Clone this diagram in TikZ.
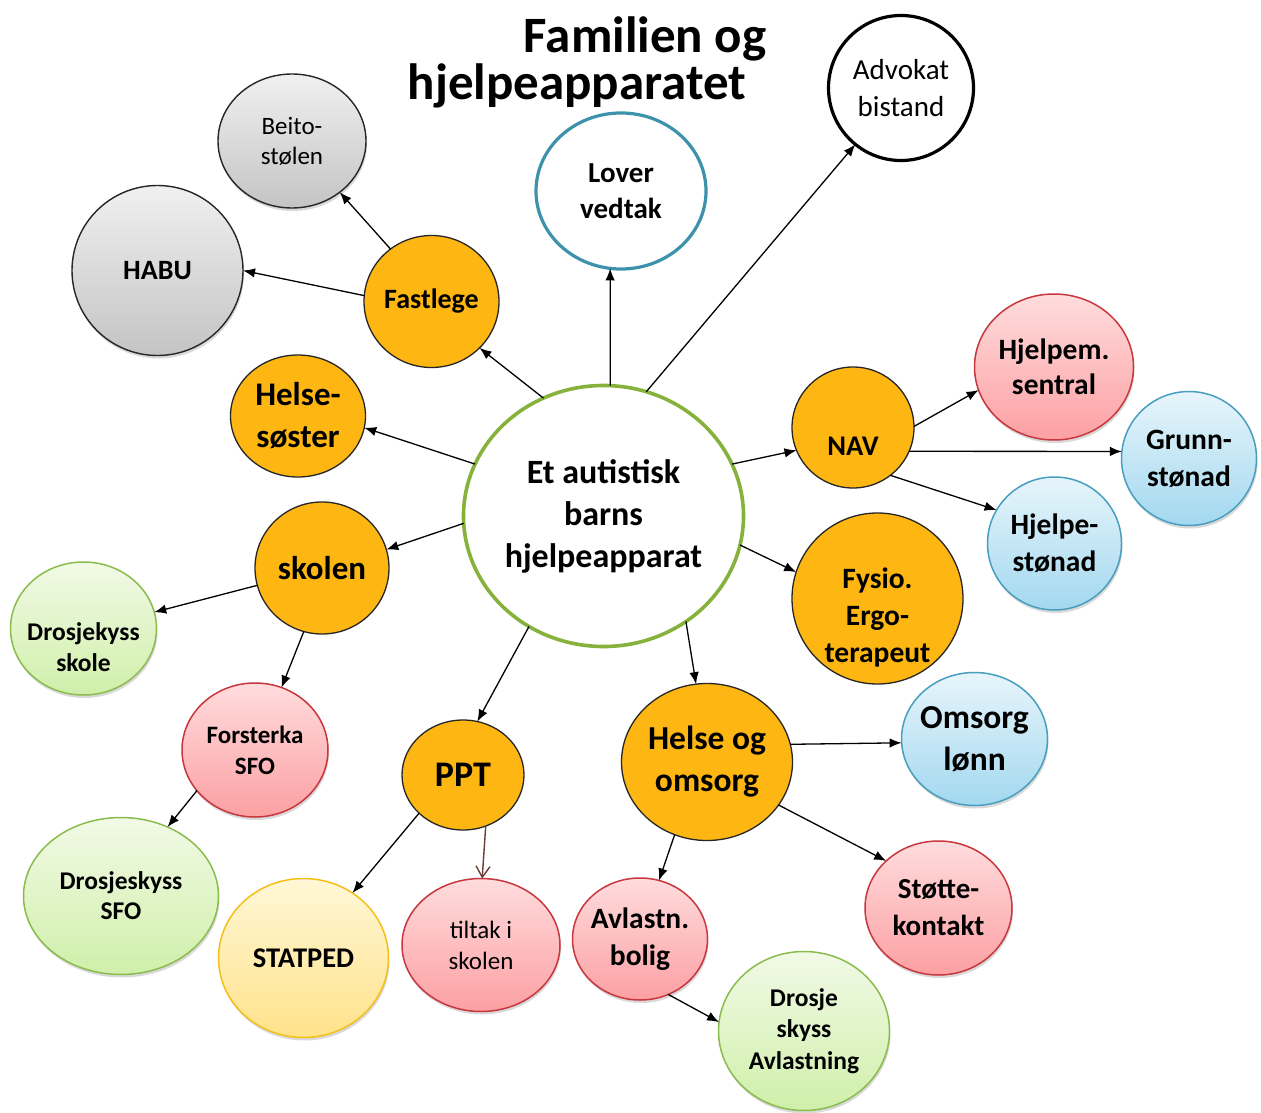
\documentclass[tikz,border=0pt]{standalone}
\usepackage{fontspec}
\setmainfont{Carlito}
\usetikzlibrary{shapes.geometric,arrows.meta,shadows}
\definecolor{orng}{RGB}{253,182,18}
\definecolor{grayT}{RGB}{240,240,240}
\definecolor{grayB}{RGB}{196,196,196}
\definecolor{redT}{RGB}{255,220,221}
\definecolor{redB}{RGB}{252,160,163}
\definecolor{redL}{RGB}{200,55,62}
\definecolor{bluT}{RGB}{231,245,251}
\definecolor{bluB}{RGB}{163,216,239}
\definecolor{bluL}{RGB}{72,158,190}
\definecolor{grnT}{RGB}{241,250,230}
\definecolor{grnB}{RGB}{208,239,170}
\definecolor{grnL}{RGB}{138,188,78}
\definecolor{yelT}{RGB}{255,247,214}
\definecolor{yelB}{RGB}{255,226,138}
\definecolor{yelL}{RGB}{246,190,24}
\definecolor{tealL}{RGB}{60,146,170}
\definecolor{ctrL}{RGB}{134,178,60}
\definecolor{brwn}{RGB}{105,62,52}
\newcommand{\fsz}[2]{\fontsize{#1}{#2}\selectfont}
\tikzset{
  bub/.style={ellipse, inner sep=0pt, outer sep=0pt},
  shad/.style={drop shadow={shadow xshift=1pt, shadow yshift=-3pt, opacity=0.15, fill=black}},
  orangebub/.style={bub, fill=orng, draw=black!85, line width=1.3pt},
  graybub/.style={bub, shad, top color=grayT, bottom color=grayB, draw=black!85, line width=1.4pt},
  redbub/.style={bub, shad, top color=redT, bottom color=redB, draw=redL, line width=1.5pt},
  bluebub/.style={bub, shad, top color=bluT, bottom color=bluB, draw=bluL, line width=1.5pt},
  greenbub/.style={bub, shad, top color=grnT, bottom color=grnB, draw=grnL, line width=1.5pt},
  yellowbub/.style={bub, shad, top color=yelT, bottom color=yelB, draw=yelL, line width=1.5pt},
  txt/.style={align=center, inner sep=0pt, text=black},
  conn/.style={-{Latex[length=12pt,width=9.5pt]}, line width=1.3pt, black},
  openconn/.style={-{Straight Barb[length=11pt,width=14pt]}, line width=1.4pt, brwn},
}
\begin{document}
\begin{tikzpicture}[x=1pt,y=-1pt]
\fill[white] (0,0) rectangle (1261,1113);
\useasboundingbox (0,0) rectangle (1261,1113);

% title
\node[txt, anchor=base, font=\fsz{51}{60}\bfseries] (title1) at (645,53) {Familien og};
\node[txt, anchor=base, font=\fsz{51}{60}\bfseries] (title2) at (577,100) {hjelpeapparatet};

% nodes
\node[graybub, minimum width=148pt, minimum height=134pt,
  label={[txt, font=\fsz{25}{30}]center:{Beito-\\stølen}}] (beito) at (292,141) {};
\node[graybub, minimum width=171pt, minimum height=170pt,
  label={[txt, font=\fsz{28}{34}\bfseries]center:HABU}] (habu) at (157.5,270.5) {};
\node[orangebub, minimum width=135pt, minimum height=132pt,
  label={[txt, font=\fsz{28}{34}\bfseries]center:Fastlege}] (fast) at (431.5,301.5) {};
\node[bub, fill=white, draw=tealL, line width=3.2pt, minimum width=170pt, minimum height=156pt,
  label={[txt, font=\fsz{29}{36}\bfseries]center:{Lover\\vedtak}}] (lover) at (621,191) {};
\node[bub, fill=white, draw=black, line width=3.2pt, minimum width=145pt, minimum height=145pt,
  label={[txt, font=\fsz{29}{37}]center:{Advokat\\bistand}}] (advokat) at (901,88) {};
\node[orangebub, minimum width=135pt, minimum height=122pt,
  label={[txt, font=\fsz{33}{42}\bfseries]center:{Helse-\\søster}}] (helses) at (298,416) {};
\node[bub, fill=white, draw=ctrL, line width=3.6pt, minimum width=280pt, minimum height=261pt,
  label={[txt, font=\fsz{34}{42}\bfseries]center:{Et autistisk\\barns\\hjelpeapparat}}] (center) at (603.5,516) {};
\node[orangebub, minimum width=122pt, minimum height=121pt,
  label={[txt, font=\fsz{28.5}{34}\bfseries, yshift=-19pt]center:NAV}] (nav) at (853,427.5) {};
\node[redbub, minimum width=159pt, minimum height=146pt,
  label={[txt, font=\fsz{29.5}{35}\bfseries]center:{Hjelpem.\\sentral}}] (hjelpem) at (1054,367) {};
\node[bluebub, minimum width=135pt, minimum height=134pt,
  label={[txt, font=\fsz{29.5}{37}\bfseries]center:{Grunn-\\stønad}}] (grunn) at (1189,458.5) {};
\node[bluebub, minimum width=134pt, minimum height=133pt,
  label={[txt, font=\fsz{29.5}{37}\bfseries]center:{Hjelpe-\\stønad}}] (hjelpest) at (1054.5,543.5) {};
\node[orangebub, minimum width=171pt, minimum height=171pt,
  label={[txt, font=\fsz{29.5}{37}\bfseries, yshift=-19pt]center:{Fysio.\\Ergo-\\terapeut}}] (fysio) at (877.5,598.5) {};
\node[orangebub, minimum width=134pt, minimum height=132pt,
  label={[txt, font=\fsz{33}{40}\bfseries]center:skolen}] (skolen) at (322,568) {};
\node[greenbub, minimum width=146pt, minimum height=133pt,
  label={[txt, font=\fsz{25.5}{31}\bfseries, yshift=-19pt]center:{Drosjekyss\\skole}}] (drskole) at (83.5,628.5) {};
\node[redbub, minimum width=146pt, minimum height=134pt,
  label={[txt, font=\fsz{25}{31}\bfseries]center:{Forsterka\\SFO}}] (forst) at (255,750) {};
\node[greenbub, minimum width=195pt, minimum height=157pt,
  label={[txt, font=\fsz{25.5}{30}\bfseries]center:{Drosjeskyss\\SFO}}] (drsfo) at (121,896) {};
\node[orangebub, minimum width=122pt, minimum height=110pt,
  label={[txt, font=\fsz{36}{42}\bfseries]center:PPT}] (ppt) at (463,775) {};
\node[yellowbub, minimum width=170pt, minimum height=159pt,
  label={[txt, font=\fsz{28.5}{34}\bfseries]center:STATPED}] (statped) at (303.5,958) {};
\node[redbub, minimum width=158pt, minimum height=133pt,
  label={[txt, font=\fsz{25}{31}]center:{tiltak i\\skolen}}] (tiltak) at (481,945) {};
\node[orangebub, minimum width=171pt, minimum height=157pt,
  label={[txt, font=\fsz{33.5}{42}\bfseries]center:{Helse og\\omsorg}}] (helseom) at (707,762) {};
\node[bluebub, minimum width=146pt, minimum height=133pt,
  label={[txt, font=\fsz{33.5}{42}\bfseries]center:{Omsorg\\lønn}}] (omsorg) at (974.5,739) {};
\node[redbub, minimum width=135pt, minimum height=122pt,
  label={[txt, font=\fsz{29.5}{37}\bfseries]center:{Avlastn.\\bolig}}] (avlastn) at (640,939) {};
\node[redbub, minimum width=147pt, minimum height=134pt,
  label={[txt, font=\fsz{29}{37}\bfseries]center:{Støtte-\\kontakt}}] (stotte) at (938.5,908) {};
\node[greenbub, minimum width=171pt, minimum height=159pt,
  label={[txt, font=\fsz{25.5}{31.5}\bfseries]center:{Drosje\\skyss\\Avlastning}}] (drosje) at (804,1031) {};

% connectors
\draw[conn] (center.117.6) -- (fast.-44.4);
\draw[conn] (center.87) -- (lover.-98.6);
\draw[conn] (center.71.4) -- (advokat.231.7);
\draw[conn] (center.158.6) -- (helses.-10.7);
\draw[conn] (center.22.8) -- (nav.202);
\draw[conn] (center.183.7) -- (skolen.16.4);
\draw[conn] (center.-12.8) -- (fysio.162);
\draw[conn] (center.236.2) -- (ppt.75.7);
\draw[conn] (center.-52.4) -- (helseom.98.7);
\draw[conn] (fast.128) -- (beito.-47.2);
\draw[conn] (fast.175) -- (habu.0.7);
\draw[conn] (nav.1) -- (hjelpem.197.8);
\draw[conn] (nav.-23.7) -- (grunn.174.5);
\draw[conn] (nav.-52) -- (hjelpest.150);
\draw[conn] (skolen.195) -- (drskole.13.7);
\draw[conn] (skolen.254.4) -- (forst.67.6);
\draw[conn] (forst.215.8) -- (drsfo.56);
\draw[conn] (ppt.221) -- (statped.53.5);
\draw[openconn] (ppt.-66) -- (tiltak.89);
\draw[conn] (helseom.12.2) -- (omsorg.183.9);
\draw[conn] (helseom.-31.3) -- (stotte.138);
\draw[conn] (helseom.246) -- (avlastn.72.4);
\draw[conn] (avlastn.-63.8) -- (drosje.174.7);
\end{tikzpicture}
\end{document}
